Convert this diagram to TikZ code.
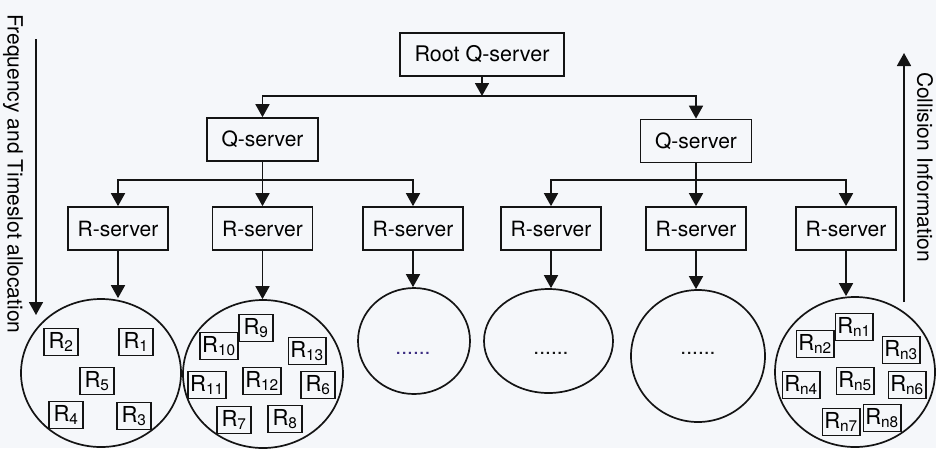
\documentclass[tikz,border=0pt]{standalone}
\usepackage{fontspec}
\setmainfont{TeX Gyre Heros}
\usetikzlibrary{arrows.meta,shapes.geometric}
\definecolor{paper}{RGB}{245,247,250}
\definecolor{ink}{RGB}{20,20,20}
\definecolor{dotblue}{RGB}{60,45,130}
\tikzset{
  lbl/.style={font=\fontsize{21}{25}\selectfont},
  box/.style={draw=ink, line width=1.7pt, lbl, inner sep=0pt, minimum height=43},
  srv/.style={box, minimum width=100},
  qsrv/.style={box, minimum width=111},
  rbox/.style={draw=ink, line width=1.5pt, font=\fontsize{22}{24}\selectfont,
               inner xsep=2pt, inner ysep=0pt, minimum height=27, minimum width=34},
  cell/.style={draw=ink, line width=1.7pt, ellipse, inner sep=0pt},
  arr/.style={draw=ink, line width=1.7pt, -{Triangle[width=14pt,length=13pt]}},
  dots/.style={lbl, anchor=base}
}
\newcommand{\Rs}[1]{R\textsubscript{#1}}
\begin{document}
\begin{tikzpicture}[x=1pt,y=-1pt]
  \fill[paper] (0,0) rectangle (936,448);
  \useasboundingbox (0,0) rectangle (936,448);

  % servers
  \node[box, minimum width=164, font=\fontsize{21.5}{25}\selectfont] (root) at (482,54.5) {Root Q-server};
  \node[qsrv] (q1) at (262.5,139.5) {Q-server};
  \node[qsrv] (q2) at (696,141) {Q-server};
  \node[srv] (s1) at (118,228.5) {R-server};
  \node[srv] (s2) at (262.5,228.5) {R-server};
  \node[srv] (s3) at (413,228.5) {R-server};
  \node[srv] (s4) at (551,228.5) {R-server};
  \node[srv] (s5) at (696,228.5) {R-server};
  \node[srv] (s6) at (846,228.5) {R-server};

  % bus levels
  \coordinate (bus0) at (0,96);
  \coordinate (bus1) at (0,180);

  % tree connectors
  \draw[arr] (root.south) -- (root.south |- bus0);
  \draw[arr] (root.south |- bus0) -| (q1.north);
  \draw[arr] (root.south |- bus0) -| (q2.north);
  \draw[arr] (q1.south) -- (s2.north);
  \draw[arr] (q1.south |- bus1) -| (s1.north);
  \draw[arr] (q1.south |- bus1) -| (s3.north);
  \draw[arr] (q2.south) -- (s5.north);
  \draw[arr] (q2.south |- bus1) -| (s4.north);
  \draw[arr] (q2.south |- bus1) -| (s6.north);

  % cells
  \node[cell, minimum width=160, minimum height=148] (c1) at (101,373) {};
  \node[cell, minimum width=160, minimum height=148] (c2) at (263,374) {};
  \node[cell, minimum width=112, minimum height=106] (c3) at (414,341) {};
  \node[cell, minimum width=129, minimum height=104] (c4) at (548.5,341) {};
  \node[cell, minimum width=134, minimum height=132] (c5) at (698,356) {};
  \node[cell, minimum width=160, minimum height=150] (c6) at (855,372) {};

  \draw[arr] (s1.south) -- (s1.south |- c1.north);
  \draw[arr] (s2.south) -- (s2.south |- c2.north);
  \draw[arr] (s3.south) -- (s3.south |- c3.north);
  \draw[arr] (s4.south) -- (s4.south |- c4.north);
  \draw[arr] (s5.south) -- (s5.south |- c5.north);
  \draw[arr] (s6.south) -- (s6.south |- c6.north);

  % cell contents
  \node[dots, text=dotblue] (d3) at (413,354) {......};
  \node[dots, text=ink] (d4) at (551,354) {......};
  \node[dots, text=ink] (d5) at (698,354) {......};

  \node[rbox] (r2) at (61,342) {\Rs{2}};
  \node[rbox] (r1) at (136,342) {\Rs{1}};
  \node[rbox] (r5) at (97,381) {\Rs{5}};
  \node[rbox] (r4) at (66,415) {\Rs{4}};
  \node[rbox] (r3) at (134,416) {\Rs{3}};

  \node[rbox] (r9) at (256,328) {\Rs{9}};
  \node[rbox, fill=paper] (r10) at (219,346) {\Rs{10}};
  \node[rbox] (r13) at (307,351) {\Rs{13}};
  \node[rbox] (r11) at (207,385) {\Rs{11}};
  \node[rbox] (r12) at (262,381) {\Rs{12}};
  \node[rbox] (r6) at (318,385) {\Rs{6}};
  \node[rbox] (r7) at (234,420) {\Rs{7}};
  \node[rbox] (r8) at (285,419) {\Rs{8}};

  \node[rbox, fill=paper] (rn2) at (815,344) {\Rs{n2}};
  \node[rbox, fill=paper] (rn1) at (854,327) {\Rs{n1}};
  \node[rbox] (rn3) at (901,350) {\Rs{n3}};
  \node[rbox] (rn4) at (801,385) {\Rs{n4}};
  \node[rbox] (rn5) at (855,381) {\Rs{n5}};
  \node[rbox] (rn6) at (907,385) {\Rs{n6}};
  \node[rbox] (rn7) at (841,422) {\Rs{n7}};
  \node[rbox] (rn8) at (882,418) {\Rs{n8}};

  % side flows
  \coordinate (fa) at (36,39);
  \coordinate (fb) at (36,315);
  \draw[arr] (fa) -- (fb);
  \node[lbl, rotate=-90] (flab) at (13,174) {Frequency and Timeslot allocation};

  \coordinate (ca) at (904,302);
  \coordinate (cb) at (904,53);
  \draw[arr] (ca) -- (cb);
  \node[lbl, rotate=-90] (clab) at (925,167) {Collision Information};
\end{tikzpicture}
\end{document}
